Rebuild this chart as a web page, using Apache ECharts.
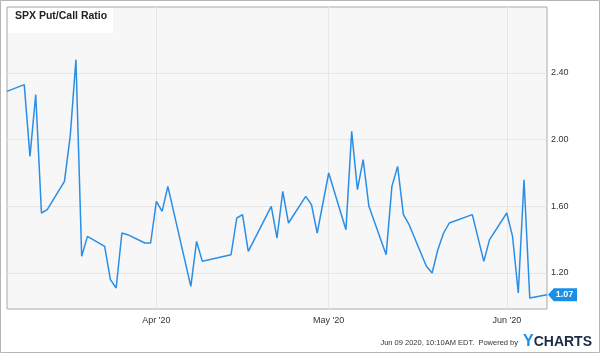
<!DOCTYPE html>
<html>
<head>
<meta charset="utf-8">
<script src="https://cdn.jsdelivr.net/npm/echarts@6/dist/echarts.min.js"></script>
<style>
html,body{margin:0;padding:0;background:#fff;}
#chart{width:600px;height:354px;}
</style>
</head>
<body>
<div id="chart"></div>
<script>
const titleText = 'SPX Put/Call Ratio';
const dates = [
 '2020-03-06','2020-03-09','2020-03-10','2020-03-11','2020-03-12','2020-03-13',
 '2020-03-16','2020-03-17','2020-03-18','2020-03-19','2020-03-20',
 '2020-03-23','2020-03-24','2020-03-25','2020-03-26','2020-03-27',
 '2020-03-30','2020-03-31','2020-04-01','2020-04-02','2020-04-03',
 '2020-04-07','2020-04-08','2020-04-09',
 '2020-04-14','2020-04-15','2020-04-16','2020-04-17',
 '2020-04-21','2020-04-22','2020-04-23','2020-04-24',
 '2020-04-27','2020-04-28','2020-04-29','2020-05-01',
 '2020-05-04','2020-05-05','2020-05-06','2020-05-07','2020-05-08',
 '2020-05-11','2020-05-12','2020-05-13','2020-05-14','2020-05-15',
 '2020-05-18','2020-05-19','2020-05-20','2020-05-21','2020-05-22',
 '2020-05-26','2020-05-28','2020-05-29',
 '2020-06-01','2020-06-02','2020-06-03','2020-06-04','2020-06-05',
 '2020-06-08'
];
const ratios = [
 2.29, 2.33, 1.90, 2.27, 1.56, 1.58,
 1.75, 2.02, 2.48, 1.30, 1.42,
 1.36, 1.16, 1.11, 1.44, 1.43,
 1.38, 1.38, 1.63, 1.57, 1.72,
 1.12, 1.39, 1.27,
 1.31, 1.53, 1.55, 1.33,
 1.60, 1.41, 1.69, 1.50,
 1.66, 1.61, 1.44, 1.80,
 1.46, 2.05, 1.70, 1.88, 1.60,
 1.31, 1.72, 1.84, 1.55, 1.49,
 1.24, 1.20, 1.34, 1.44, 1.50,
 1.55, 1.27, 1.40,
 1.56, 1.42, 1.08, 1.76, 1.05,
 1.07
];
const monthTicks = ['2020-04-01','2020-05-01','2020-06-01'];
const yTicks = [1.20, 1.60, 2.00, 2.40];
const xMin = '2020-03-06', xMax = '2020-06-08';
const yMin = 0.984, yMax = 2.796;
const footerText = "Jun 09 2020, 10:10AM EDT.  Powered by";

const FONT = '"Liberation Sans", Arial, Helvetica, sans-serif';
const monthNames = ['Jan','Feb','Mar','Apr','May','Jun','Jul','Aug','Sep','Oct','Nov','Dec'];
const toTime = d => Date.UTC(+d.slice(0,4), +d.slice(5,7) - 1, +d.slice(8,10));
const tickTimes = monthTicks.map(toTime);
const seriesData = dates.map((d, i) => [toTime(d), ratios[i]]);
const last = seriesData[seriesData.length - 1];

const chart = echarts.init(document.getElementById('chart'), null, {renderer: 'canvas'});
chart.setOption({
  animation: false,
  backgroundColor: '#fff',
  title: {
    text: titleText, left: 15, top: 11, padding: 0,
    textStyle: {fontSize: 10.5, fontWeight: 'bold', color: '#222', fontFamily: FONT}
  },
  grid: {
    left: 7, right: 53, top: 7, bottom: 45,
    show: true, backgroundColor: '#f7f7f7', borderColor: '#a9a9a9', borderWidth: 1
  },
  xAxis: {
    type: 'value',
    min: toTime(xMin),
    max: toTime(xMax),
    axisLine: {show: false},
    axisTick: {show: false, customValues: tickTimes},
    splitLine: {show: true, lineStyle: {color: '#e6e6e6', width: 1}},
    axisLabel: {
      customValues: tickTimes,
      margin: 7,
      fontSize: 9, color: '#333', fontFamily: FONT,
      formatter: v => { const d = new Date(v); return monthNames[d.getUTCMonth()] + " '" + String(d.getUTCFullYear()).slice(2); }
    }
  },
  yAxis: {
    type: 'value', position: 'right',
    min: yMin, max: yMax,
    axisLine: {show: false},
    axisTick: {show: false, customValues: yTicks},
    splitLine: {show: true, lineStyle: {color: '#e6e6e6', width: 1}},
    axisLabel: {
      customValues: yTicks,
      margin: 4, padding: [0, 0, 8, 0],
      fontSize: 9, color: '#333', fontFamily: FONT,
      formatter: v => v.toFixed(2)
    }
  },
  series: [{
    type: 'line',
    data: seriesData,
    showSymbol: false,
    symbol: 'none',
    lineStyle: {color: '#2b8ee6', width: 1.5},
    clip: false,
    markPoint: {
      silent: true,
      symbol: 'path://M0,6 L6,0 L30,0 L30,12 L6,12 Z',
      symbolKeepAspect: false,
      symbolSize: [29, 13],
      symbolOffset: [15.5, 0],
      itemStyle: {color: '#1a8fe8'},
      label: {
        show: true, position: 'inside', offset: [2, 0],
        color: '#fff', fontSize: 9, fontWeight: 'bold', fontFamily: FONT,
        formatter: p => p.value.toFixed(2)
      },
      data: [{coord: last, value: last[1]}]
    }
  }],
  graphic: [
    {type: 'rect', z: 3, silent: true, shape: {x: 8, y: 8, width: 105, height: 25}, style: {fill: '#ffffff'}},
    {type: 'rect', z: 10, silent: true, shape: {x: 0.5, y: 0.5, width: 599, height: 352}, style: {fill: 'none', stroke: '#b5b5b5', lineWidth: 1}},
    {type: 'text', z: 10, silent: true, right: 82, top: 339,
     style: {text: footerText, fill: '#333', font: '7.5px ' + FONT}},
    {type: 'text', z: 10, silent: true, right: 8, top: 334,
     style: {
       text: '{y|Y}{c|CHARTS}',
       rich: {
         y: {fontSize: 16, fontWeight: 'bold', fill: '#1a8fe8', color: '#1a8fe8', fontFamily: FONT},
         c: {fontSize: 14, fontWeight: 'bold', fill: '#1c2b48', color: '#1c2b48', fontFamily: FONT}
       }
     }}
  ]
});
</script>
</body>
</html>
